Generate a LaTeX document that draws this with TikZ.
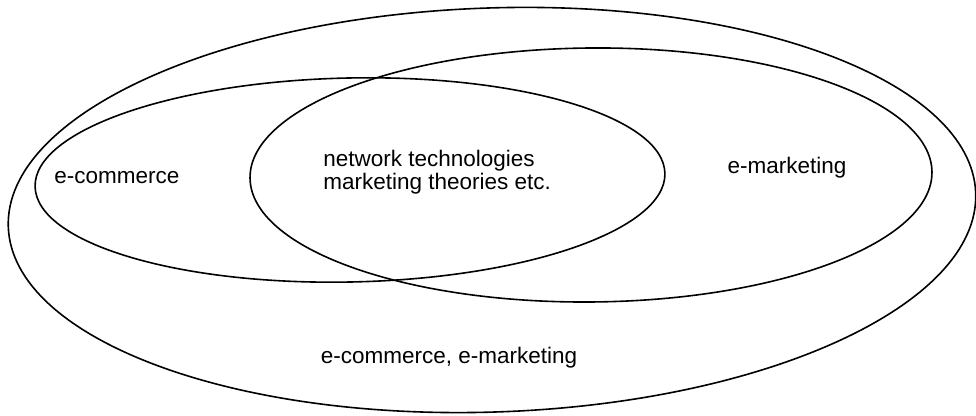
\documentclass[tikz,border=0pt]{standalone}
\usepackage{fontspec}
\setmainfont{Liberation Sans}
\usetikzlibrary{positioning}

\begin{document}
\begin{tikzpicture}[
  x=0.5pt, y=0.5pt,
  set/.style={draw, line width=0.8pt},
  lbl/.style={font=\fontsize{11.25}{10}\selectfont, inner sep=0pt, align=left},
]
\useasboundingbox (0,0) rectangle (976,416);

% Sets
\draw[set, rotate around={2:(492,206)}] (492,206) ellipse [x radius=484, y radius=202];
\draw[set, rotate around={1.2:(350,236)}] (350,236) ellipse [x radius=315, y radius=102];
\draw[set, rotate around={0.5:(591,241)}] (591,241) ellipse [x radius=341, y radius=127];

% Labels
\node[lbl] (ecom) at (117,238) {e-commerce};
\node[lbl, anchor=west] (both) at (323,244) {network technologies\\marketing theories etc.};
\node[lbl] (emkt) at (787,248) {e-marketing};
\node[lbl] (outer) at (449,58) {e-commerce, e-marketing};
\end{tikzpicture}
\end{document}
